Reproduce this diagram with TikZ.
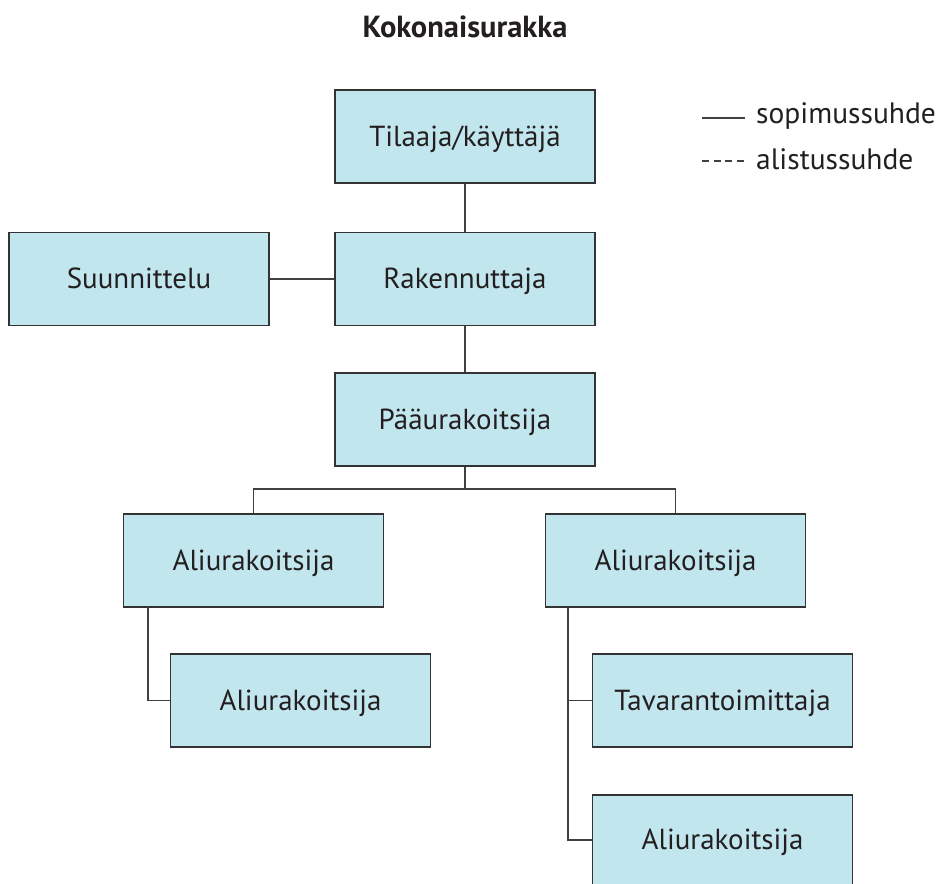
\documentclass[tikz,border=0pt]{standalone}
\usepackage{fontspec}
\setmainfont{PT Sans}
\begin{document}
\begin{tikzpicture}[x=1pt,y=-1pt,
  boxtext/.style={font=\fontsize{29}{34}\selectfont,text=txt,text height=23pt,text depth=4pt},
  box/.style={boxtext,draw=black!80,line width=1.8pt,fill=boxblue,minimum width=260pt,minimum height=93pt,inner sep=0pt},
  conn/.style={draw=black!75,line width=1.6pt},
  legtext/.style={font=\fontsize{29.5}{34}\selectfont,text=txt,anchor=west,inner sep=0pt}]
\definecolor{boxblue}{HTML}{C2E6EE}
\definecolor{txt}{HTML}{231F20}
\useasboundingbox (0,0) rectangle (941,883);
\clip (0,0) rectangle (941,883);
\node[font=\bfseries\fontsize{30.5}{34}\selectfont,text=txt] (title) at (465,27) {Kokonaisurakka};
\node[box] (tilaaja) at (465,136.5) {Tilaaja/käyttäjä};
\node[box] (suun) at (139,279) {Suunnittelu};
\node[box] (rak) at (465,279) {Rakennuttaja};
\node[box] (paa) at (465,419.5) {Pääurakoitsija};
\node[box] (al1) at (253.5,560.5) {Aliurakoitsija};
\node[box] (al2) at (675.5,560.5) {Aliurakoitsija};
\node[box] (al3) at (300.5,700.5) {Aliurakoitsija};
\node[box] (tav) at (722.5,700.5) {Tavarantoimittaja};
\node[box,minimum height=96pt] (al4) at (722.5,843) {};
\node[boxtext,inner sep=0pt] (al4t) at (722.5,840) {Aliurakoitsija};
\coordinate (br) at (465,489);
\draw[conn] (tilaaja) -- (rak);
\draw[conn] (suun) -- (rak);
\draw[conn] (rak) -- (paa);
\draw[conn] (paa.south) -- (br);
\draw[conn] (br) -| (al1.north);
\draw[conn] (br) -| (al2.north);
\coordinate (t1) at (148,607);
\draw[conn] (t1) |- (al3.west);
\coordinate (t2) at (568,607);
\draw[conn] (t2) |- (tav.west);
\draw[conn] (t2) |- (al4t.center -| al4.west);
\coordinate (l1a) at (702,118); \coordinate (l1b) at (745,118);
\coordinate (l2a) at (702,161); \coordinate (l2b) at (745,161);
\draw[conn,line width=1.4pt] (l1a) -- (l1b);
\draw[conn,line width=1.4pt,dash pattern=on 7pt off 4.5pt] (l2a) -- (l2b);
\node[legtext] (lt1) at (756,116) {sopimussuhde};
\node[legtext] (lt2) at (756,159) {alistussuhde};
\end{tikzpicture}
\end{document}
